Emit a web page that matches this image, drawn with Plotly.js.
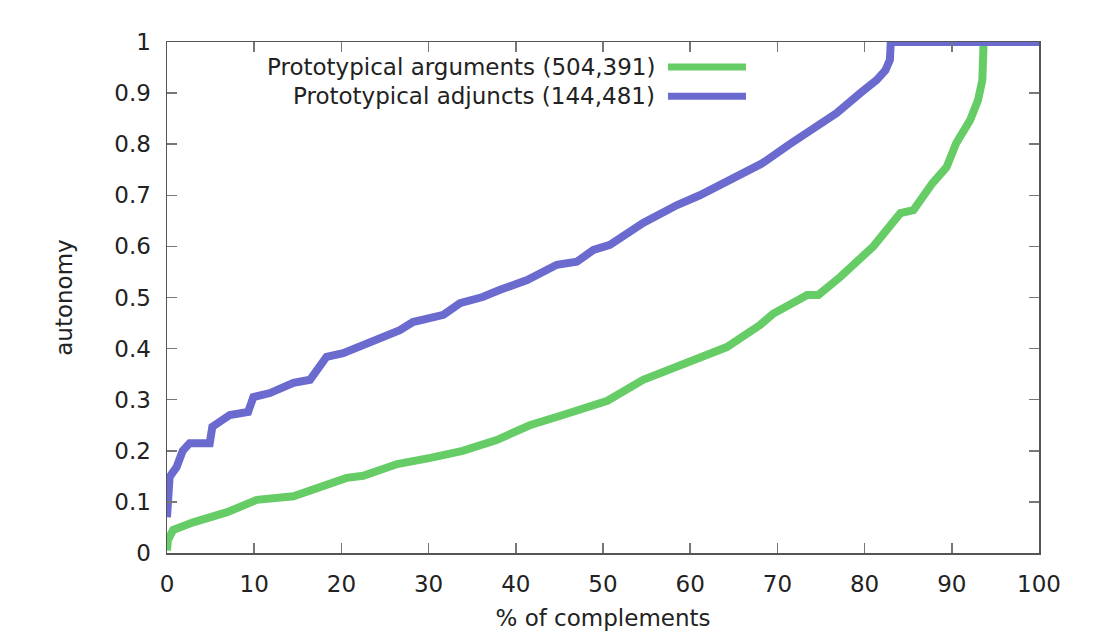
<!DOCTYPE html>
<html>
<head>
<meta charset="utf-8">
<script src="https://cdn.plot.ly/plotly-3.0.1.min.js"></script>
<style>html,body{margin:0;padding:0;background:#fff;}#chart{width:1097px;height:631px;}</style>
</head>
<body>
<div id="chart"></div>
<script>
var seriesNames = ["Prototypical arguments (504,391)", "Prototypical adjuncts (144,481)"];
var seriesColors = ["#66cc66", "#6a6acf"];

var argX = [0, 0.1, 0.7, 3, 6.9, 10.3, 14.5, 17.5, 18.7, 20.6, 22.5, 26.4, 30.2, 33.9, 37.8, 41.6, 45.4, 48.9, 50.5, 54.6, 60.3, 64.2, 68.0, 69.5, 72.6, 73.4, 74.7, 77.2, 81.0, 84.1, 85.6, 87.8, 89.4, 90.5, 92.1, 93.0, 93.5, 93.6, 93.65];
var argY = [0.005, 0.025, 0.045, 0.06, 0.08, 0.104, 0.111, 0.128, 0.137, 0.147, 0.151, 0.174, 0.186, 0.20, 0.221, 0.25, 0.27, 0.291, 0.298, 0.339, 0.378, 0.403, 0.446, 0.468, 0.497, 0.505, 0.505, 0.54, 0.60, 0.665, 0.671, 0.724, 0.755, 0.802, 0.847, 0.886, 0.925, 0.96, 1.0];

var adjX = [0, 0.3, 1.1, 1.8, 2.6, 4.9, 5.2, 7.2, 9.3, 9.9, 11.8, 14.5, 16.4, 17.5, 18.3, 20.2, 22.1, 25.6, 26.7, 28.2, 31.7, 33.6, 36.2, 38.2, 41.3, 44.7, 47.0, 48.9, 50.8, 54.6, 56.9, 58.5, 61.1, 64.2, 67.2, 68.3, 71.4, 74.5, 76.8, 79.5, 81.4, 82.4, 82.9, 83.0, 100];
var adjY = [0.07, 0.149, 0.168, 0.20, 0.215, 0.215, 0.247, 0.27, 0.276, 0.305, 0.313, 0.333, 0.339, 0.364, 0.384, 0.391, 0.403, 0.426, 0.436, 0.452, 0.466, 0.489, 0.501, 0.515, 0.534, 0.564, 0.57, 0.593, 0.603, 0.646, 0.667, 0.681, 0.70, 0.726, 0.753, 0.763, 0.80, 0.834, 0.861, 0.90, 0.926, 0.945, 0.965, 1.0, 1.0];

var xTicks = [0, 10, 20, 30, 40, 50, 60, 70, 80, 90, 100];
var yTicks = [0, 0.1, 0.2, 0.3, 0.4, 0.5, 0.6, 0.7, 0.8, 0.9, 1];
var yTickText = ["0", "0.1", "0.2", "0.3", "0.4", "0.5", "0.6", "0.7", "0.8", "0.9", "1"];

var FONT = "DejaVu Sans, Verdana, sans-serif";
var FS = 23;

var traces = [
  {x: argX, y: argY, mode: "lines", name: seriesNames[0], line: {color: seriesColors[0], width: 8}, showlegend: false},
  {x: adjX, y: adjY, mode: "lines", name: seriesNames[1], line: {color: seriesColors[1], width: 8}, showlegend: false}
];

var legendTextX = 0.562, legendLineX0 = 0.5745, legendLineX1 = 0.664;
var legendRows = [0.951, 0.894];
var annotations = [], shapes = [];
for (var i = 0; i < seriesNames.length; i++) {
  annotations.push({xref: "paper", yref: "paper", x: legendTextX, y: legendRows[i], xanchor: "right", yanchor: "middle",
    text: seriesNames[i], showarrow: false, font: {family: FONT, size: FS, color: "#222"}});
  shapes.push({type: "line", xref: "paper", yref: "paper", x0: legendLineX0, x1: legendLineX1, y0: legendRows[i], y1: legendRows[i],
    line: {color: seriesColors[i], width: 7}});
}

var layout = {
  width: 1097, height: 631,
  margin: {l: 167, r: 58, t: 42, b: 78},
  paper_bgcolor: "#fff", plot_bgcolor: "#fff",
  font: {family: FONT, size: FS, color: "#222"},
  showlegend: false,
  xaxis: {
    range: [0, 100], tickvals: xTicks, ticktext: xTicks.map(String),
    ticks: "inside", ticklen: 10, tickwidth: 1.5, tickcolor: "#777",
    showline: true, linecolor: "#555", linewidth: 1.5, mirror: "ticks",
    showgrid: false, zeroline: false, ticklabelstandoff: 10,
    tickfont: {family: FONT, size: FS, color: "#222"},
    title: {text: "% of complements", font: {family: FONT, size: FS, color: "#222"}, standoff: 17}
  },
  yaxis: {
    range: [0, 1], tickvals: yTicks, ticktext: yTickText,
    ticks: "inside", ticklen: 10, tickwidth: 1.5, tickcolor: "#777",
    showline: true, linecolor: "#555", linewidth: 1.5, mirror: "ticks",
    showgrid: false, zeroline: false, ticklabelstandoff: 10,
    tickfont: {family: FONT, size: FS, color: "#222"},
    title: {text: "autonomy", font: {family: FONT, size: FS, color: "#222"}, standoff: 35}
  },
  annotations: annotations,
  shapes: shapes
};

Plotly.newPlot("chart", traces, layout, {displayModeBar: false, staticPlot: true});
</script>
</body>
</html>
